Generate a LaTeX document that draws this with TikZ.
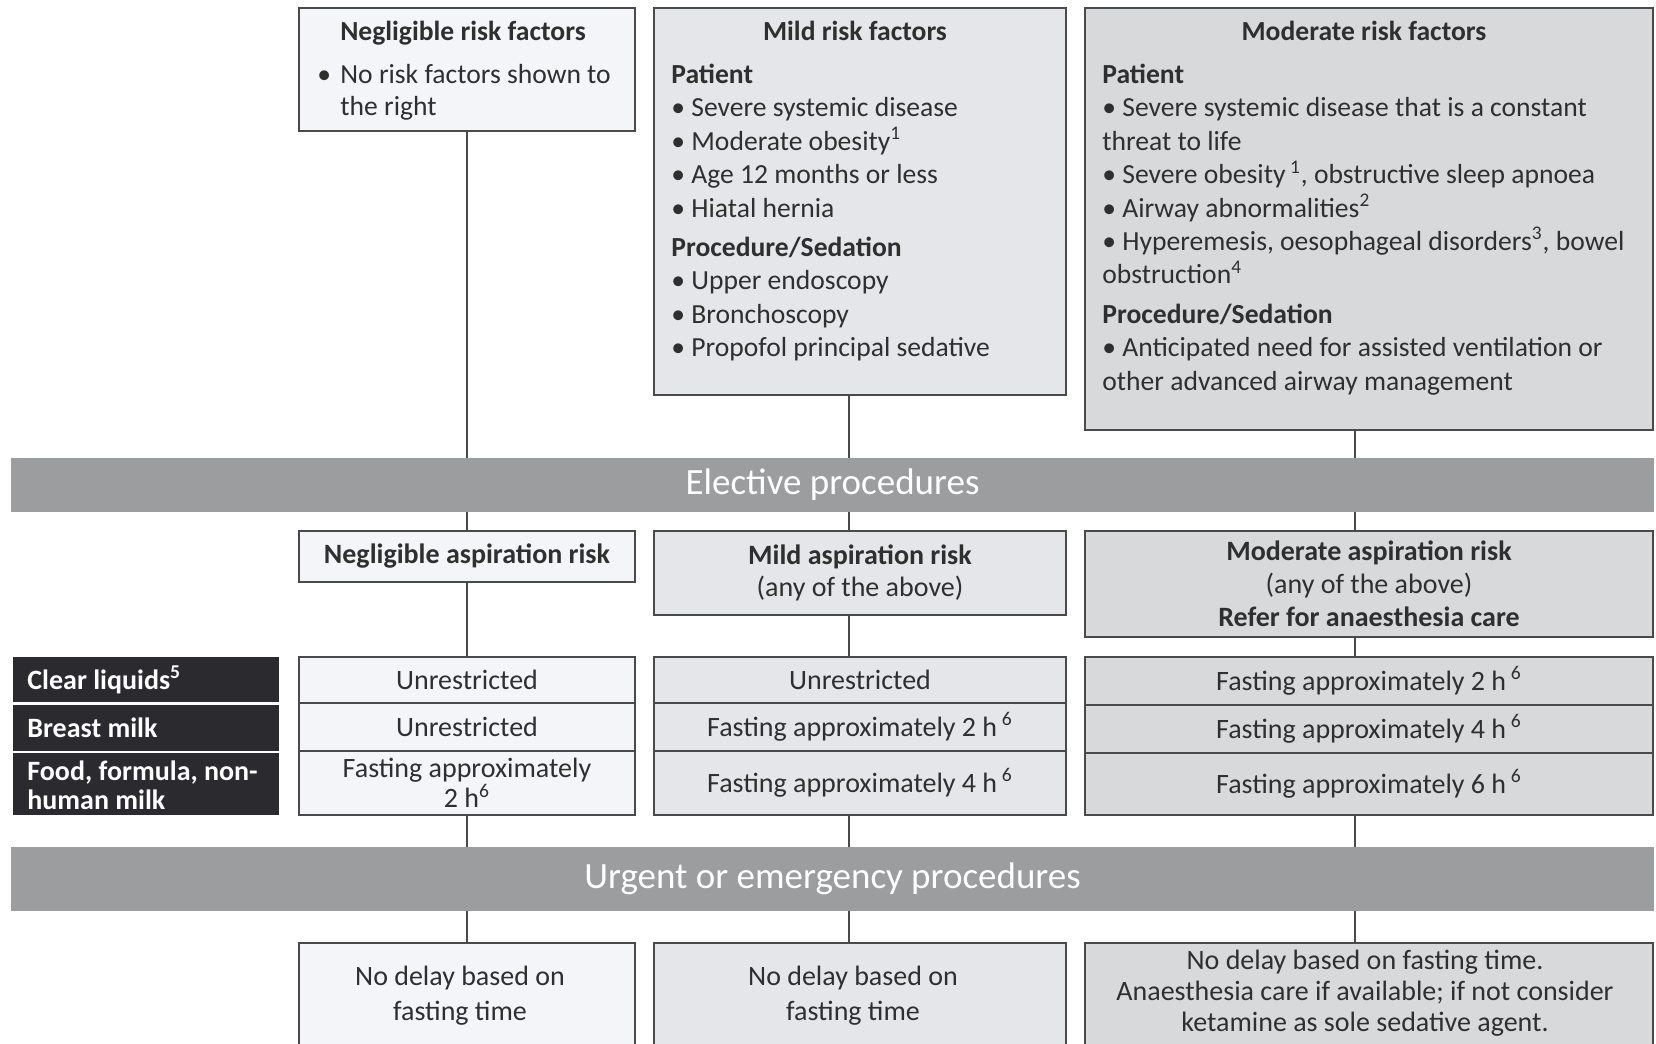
\documentclass[tikz,border=0pt]{standalone}
\usepackage{fontspec}
\setmainfont{Carlito}
\usetikzlibrary{fit}

\definecolor{negfill}{HTML}{F4F5F8}
\definecolor{mildfill}{HTML}{E5E6E9}
\definecolor{modfill}{HTML}{D8D9DB}
\definecolor{bandgray}{HTML}{9C9D9F}
\definecolor{labelblack}{HTML}{2A2A2F}
\definecolor{boxline}{HTML}{4A4A4A}
\definecolor{textgray}{HTML}{2F2F2F}

\tikzset{
  box/.style={draw=boxline, line width=1pt, inner sep=0pt},
  band/.style={fill=bandgray, inner sep=0pt},
  bandtext/.style={inner sep=0pt, text=white, font=\fontsize{18.5}{22}\selectfont},
  rowlabel/.style={fill=labelblack, inner sep=0pt},
  labeltext/.style={anchor=west, inner sep=0pt, text=white, align=left, font=\fontsize{14}{14.5}\selectfont\bfseries},
  title/.style={anchor=base, inner sep=0pt, text=textgray, font=\fontsize{13.8}{16.7}\selectfont\bfseries},
  body/.style={anchor=north west, inner sep=0pt, text=textgray, align=left, font=\fontsize{13.8}{16.7}\selectfont},
  celltext/.style={inner sep=0pt, text=textgray, align=center, font=\fontsize{14}{13.5}\selectfont},
  risk/.style={inner sep=0pt, text=textgray, align=center, font=\fontsize{14}{16}\selectfont},
  urgtext/.style={inner sep=0pt, text=textgray, align=center, font=\fontsize{14}{17.5}\selectfont},
  link/.style={draw=boxline, line width=1pt},
}

\begin{document}
\begin{tikzpicture}[x=0.5pt,y=-0.5pt]
  \useasboundingbox (0,0) rectangle (1656,1044);
  \clip (0,0) rectangle (1656,1044);
  \fill[white] (0,0) rectangle (1656,1044);

  % Columns of the connectors
  \coordinate (colA) at (467,0);
  \coordinate (colB) at (849,0);
  \coordinate (colC) at (1355,0);

  % Draw the risk factor boxes
  \node[box, fill=negfill, fit={(299,8) (635,131)}] (negf) {};
  \node[box, fill=mildfill, fit={(654,8) (1066,395)}] (mildf) {};
  \node[box, fill=modfill, fit={(1085,8) (1653,430)}] (modf) {};

  \node[title] (negf-title) at (463,40) {Negligible risk factors};
  \node[title] (mildf-title) at (855,40) {Mild risk factors};
  \node[title] (modf-title) at (1364,40) {Moderate risk factors};

  \node[body, font=\fontsize{13.8}{16}\selectfont] (negf-body) at (317,63)
    {\rule{0pt}{10pt}\makebox[11.5pt][l]{\textbullet}No risk factors shown to\\
     \hspace*{11.5pt}the right};
  \node[body] (mildf-body) at (671,63)
    {\rule{0pt}{10pt}\textbf{Patient}\\
     \textbullet\ Severe systemic disease\\
     \textbullet\ Moderate obesity\textsuperscript{1}\\
     \textbullet\ Age 12 months or less\\
     \textbullet\ Hiatal hernia\\[3pt]
     \textbf{Procedure/Sedation}\\
     \textbullet\ Upper endoscopy\\
     \textbullet\ Bronchoscopy\\
     \textbullet\ Propofol principal sedative};
  \node[body] (modf-body) at (1102,63)
    {\rule{0pt}{10pt}\textbf{Patient}\\
     \textbullet\ Severe systemic disease that is a constant\\
     threat to life\\
     \textbullet\ Severe obesity\,\textsuperscript{1}, obstructive sleep apnoea\\
     \textbullet\ Airway abnormalities\textsuperscript{2}\\
     \textbullet\ Hyperemesis, oesophageal disorders\textsuperscript{3}, bowel\\
     obstruction\textsuperscript{4}\\[3pt]
     \textbf{Procedure/Sedation}\\
     \textbullet\ Anticipated need for assisted ventilation or\\
     other advanced airway management};

  % Draw the bands
  \node[band, fit={(11,458) (1654,512)},
        label={[bandtext]center:Elective procedures}] (elective) {};
  \node[band, fit={(11,847) (1654,911)},
        label={[bandtext]center:Urgent or emergency procedures}] (urgent) {};

  % Draw the aspiration risk boxes
  \node[box, fill=negfill, fit={(299,531) (635,582)},
        label={[risk]center:\textbf{Negligible aspiration risk}}] (negasp) {};
  \node[box, fill=mildfill, fit={(654,531) (1066,615)},
        label={[risk]center:\textbf{Mild aspiration risk}\\(any of the above)}] (mildasp) {};
  \node[box, fill=modfill, fit={(1085,531) (1653,637)},
        label={[risk, font=\fontsize{14}{16.5}\selectfont]center:\textbf{Moderate aspiration risk}\\(any of the above)\\\textbf{Refer for anaesthesia care}}] (modasp) {};

  % Draw the row labels
  \node[rowlabel, fit={(13,657) (279,702)}] (clear) {};
  \node[rowlabel, fit={(13,705) (279,751)}] (breast) {};
  \node[rowlabel, fit={(13,753) (279,815)}] (food) {};
  \node[labeltext] (clear-txt) at (27,680) {Clear liquids\textsuperscript{5}};
  \node[labeltext] (breast-txt) at (27,728) {Breast milk};
  \node[labeltext] (food-txt) at (27,785) {Food, formula, non-\\human milk};

  % Draw the fasting times
  \node[box, fill=negfill, fit={(299,657) (635,703)}, label={[celltext]center:Unrestricted}] (neg-clear) {};
  \node[box, fill=negfill, fit={(299,703) (635,751)}, label={[celltext]center:Unrestricted}] (neg-breast) {};
  \node[box, fill=negfill, fit={(299,751) (635,815)}, label={[celltext]center:Fasting approximately\\2 h\textsuperscript{6}}] (neg-food) {};
  \node[box, fill=mildfill, fit={(654,657) (1066,703)}, label={[celltext]center:Unrestricted}] (mild-clear) {};
  \node[box, fill=mildfill, fit={(654,703) (1066,751)}, label={[celltext]center:Fasting approximately 2 h\,\textsuperscript{6}}] (mild-breast) {};
  \node[box, fill=mildfill, fit={(654,751) (1066,815)}, label={[celltext]center:Fasting approximately 4 h\,\textsuperscript{6}}] (mild-food) {};
  \node[box, fill=modfill, fit={(1085,657) (1653,705)}, label={[celltext]center:Fasting approximately 2 h\,\textsuperscript{6}}] (mod-clear) {};
  \node[box, fill=modfill, fit={(1085,705) (1653,753)}, label={[celltext]center:Fasting approximately 4 h\,\textsuperscript{6}}] (mod-breast) {};
  \node[box, fill=modfill, fit={(1085,753) (1653,815)}, label={[celltext]center:Fasting approximately 6 h\,\textsuperscript{6}}] (mod-food) {};

  % Draw the urgent boxes
  \node[box, fill=negfill, fit={(299,943) (635,1060)}] (negurg) {};
  \node[box, fill=mildfill, fit={(654,943) (1066,1060)}] (mildurg) {};
  \node[box, fill=modfill, fit={(1085,943) (1653,1060)}] (modurg) {};
  \node[urgtext] (negurg-txt) at (460,996) {No delay based on\\fasting time};
  \node[urgtext] (mildurg-txt) at (853,996) {No delay based on\\fasting time};
  \node[urgtext, font=\fontsize{14}{15.5}\selectfont] (modurg-txt) at (1365,993)
    {No delay based on fasting time.\\Anaesthesia care if available; if not consider\\ketamine as sole sedative agent.};

  % Draw the connectors
  \draw[link] (negf.south -| colA) -- (elective.north -| colA);
  \draw[link] (mildf.south -| colB) -- (elective.north -| colB);
  \draw[link] (modf.south -| colC) -- (elective.north -| colC);
  \draw[link] (elective.south -| colA) -- (negasp.north -| colA);
  \draw[link] (elective.south -| colB) -- (mildasp.north -| colB);
  \draw[link] (elective.south -| colC) -- (modasp.north -| colC);
  \draw[link] (negasp.south -| colA) -- (neg-clear.north -| colA);
  \draw[link] (mildasp.south -| colB) -- (mild-clear.north -| colB);
  \draw[link] (modasp.south -| colC) -- (mod-clear.north -| colC);
  \draw[link] (neg-food.south -| colA) -- (urgent.north -| colA);
  \draw[link] (mild-food.south -| colB) -- (urgent.north -| colB);
  \draw[link] (mod-food.south -| colC) -- (urgent.north -| colC);
  \draw[link] (urgent.south -| colA) -- (negurg.north -| colA);
  \draw[link] (urgent.south -| colB) -- (mildurg.north -| colB);
  \draw[link] (urgent.south -| colC) -- (modurg.north -| colC);
\end{tikzpicture}
\end{document}
